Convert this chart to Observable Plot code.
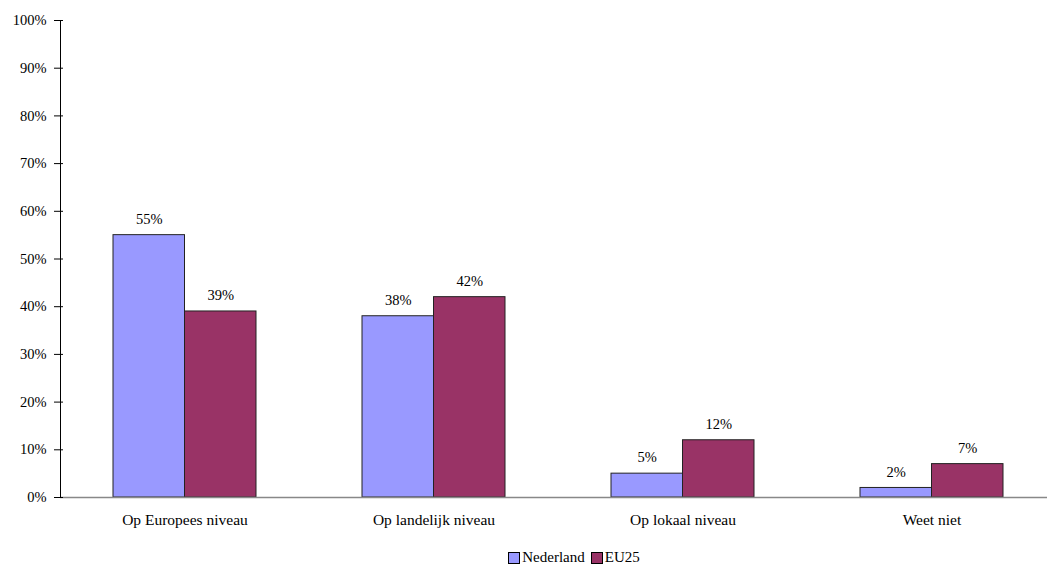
<!DOCTYPE html>
<html><head><meta charset="utf-8">
<script src="https://cdn.jsdelivr.net/npm/d3@7"></script>
<script src="https://cdn.jsdelivr.net/npm/@observablehq/plot@0.6"></script>
<style>
body{margin:0;background:#fff;font-family:"Liberation Serif","Times New Roman",serif;}
#legend{display:flex;justify-content:center;gap:6px;font-size:15px;margin-top:9px;padding-left:101px;line-height:17px;}
#legend span{display:inline-flex;align-items:center;}
#legend i{display:inline-block;width:10px;height:10px;border:1px solid #000;margin-right:2px;}
</style></head>
<body><div id="chart"></div><div id="legend"></div>
<script>
const categories = ["Op Europees niveau","Op landelijk niveau","Op lokaal niveau","Weet niet"];
const series = ["Nederland","EU25"];
const nederland = [55,38,5,2];
const eu25 = [39,42,12,7];
const yTicks = [0,10,20,30,40,50,60,70,80,90,100];
const colors = ["#9999FF","#993366"];

const data = [];
categories.forEach((c,i)=>{
  data.push({cat:c, s:"Nederland", v:nederland[i]});
  data.push({cat:c, s:"EU25", v:eu25[i]});
});
const half = 143/2;
const plot = Plot.plot({
  width:1047, height:540,
  marginLeft:60, marginRight:0, marginTop:20, marginBottom:43,
  style:{fontFamily:"'Liberation Serif', 'Times New Roman', serif", fontSize:"15px", color:"#000"},
  x:{domain:categories, range:[59.5,1055.5], paddingInner:0.426, paddingOuter:0.213, label:null},
  y:{domain:[0,100], label:null},
  marks:[
    Plot.barY(data.filter(d=>d.s==="Nederland"), {x:"cat", y:"v", fill:colors[0], stroke:"#222", strokeWidth:1, insetRight:half}),
    Plot.barY(data.filter(d=>d.s==="EU25"), {x:"cat", y:"v", fill:colors[1], stroke:"#222", strokeWidth:1, insetLeft:half}),
    Plot.ruleY([0], {stroke:"#888", strokeWidth:1.5}),
    Plot.frame({anchor:"left", stroke:"#000"}),
    Plot.text(data.filter(d=>d.s==="Nederland"), {x:"cat", y:"v", text:d=>d.v+"%", dx:-half/2, dy:-16, fontSize:14.5}),
    Plot.text(data.filter(d=>d.s==="EU25"), {x:"cat", y:"v", text:d=>d.v+"%", dx:half/2, dy:-16, fontSize:14.5}),
    Plot.axisY({ticks:yTicks, tickSize:9, dx:3, text:null, label:null, stroke:"#000"}),
    Plot.axisY({ticks:yTicks, tickSize:0, tickPadding:14, tickFormat:d=>d+"%", label:null, fontSize:14.5}),
    Plot.axisX({tickSize:0, tickPadding:16, label:null, fontSize:15.5})
  ]
});
document.getElementById("chart").appendChild(plot);
const lg = document.getElementById("legend");
series.forEach((s,i)=>{
  const sp=document.createElement("span");
  sp.innerHTML=`<i style="background:${colors[i]}"></i>${s}`;
  lg.appendChild(sp);
});
</script></body></html>
